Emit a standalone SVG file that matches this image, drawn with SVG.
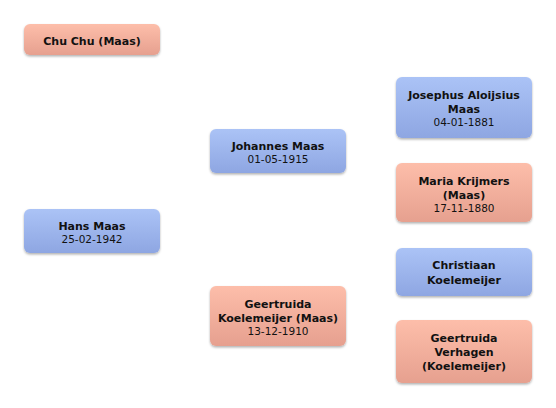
<svg xmlns="http://www.w3.org/2000/svg" width="556" height="408" viewBox="0 0 556 408">
<defs>
<linearGradient id="gb" x1="0" y1="0" x2="0" y2="1"><stop offset="0" stop-color="#abc3f6"/><stop offset="1" stop-color="#8ea6e2"/></linearGradient>
<linearGradient id="gp" x1="0" y1="0" x2="0" y2="1"><stop offset="0" stop-color="#fdbeaa"/><stop offset="1" stop-color="#e6a08f"/></linearGradient>
<filter id="sh" x="-10%" y="-10%" width="120%" height="130%"><feDropShadow dx="0" dy="1.5" stdDeviation="1.2" flood-color="#000" flood-opacity="0.3"/></filter>
</defs>
<style>
rect{filter:url(#sh)}
.m rect{fill:url(#gb)}
.f rect{fill:url(#gp)}
text{font-family:"DejaVu Sans",sans-serif;text-anchor:middle;fill:#111}
.n{font-weight:bold;font-size:11px}
.d{font-size:10.5px}
</style>
<rect width="556" height="408" fill="#fff" style="filter:none"/>
<g id="connectors"></g>
<g id="chuchu" class="f"><rect x="24" y="24" width="136" height="31" rx="6"/><text class="n" x="92" y="45">Chu Chu (Maas)</text></g>
<g id="hans" class="m"><rect x="24" y="209" width="136" height="44" rx="6"/><text class="n" x="92" y="230">Hans Maas</text><text class="d" x="92" y="243">25-02-1942</text></g>
<g id="johannes" class="m"><rect x="210" y="129" width="136" height="44" rx="6"/><text class="n" x="278" y="150">Johannes Maas</text><text class="d" x="278" y="163">01-05-1915</text></g>
<g id="geertruidak" class="f"><rect x="210" y="286" width="136" height="60" rx="6"/><text class="n" x="278" y="308">Geertruida</text><text class="n" x="278" y="322">Koelemeijer (Maas)</text><text class="d" x="278" y="335">13-12-1910</text></g>
<g id="josephus" class="m"><rect x="396" y="77" width="136" height="61" rx="6"/><text class="n" x="464" y="99">Josephus Aloijsius</text><text class="n" x="464" y="113">Maas</text><text class="d" x="464" y="126">04-01-1881</text></g>
<g id="maria" class="f"><rect x="396" y="163" width="136" height="59" rx="6"/><text class="n" x="464" y="185">Maria Krijmers</text><text class="n" x="464" y="199">(Maas)</text><text class="d" x="464" y="212">17-11-1880</text></g>
<g id="christiaan" class="m"><rect x="396" y="248" width="136" height="48" rx="6"/><text class="n" x="464" y="269">Christiaan</text><text class="n" x="464" y="284">Koelemeijer</text></g>
<g id="geertruidav" class="f"><rect x="396" y="320" width="136" height="63" rx="6"/><text class="n" x="464" y="342">Geertruida</text><text class="n" x="464" y="356">Verhagen</text><text class="n" x="464" y="370">(Koelemeijer)</text></g>
</svg>
